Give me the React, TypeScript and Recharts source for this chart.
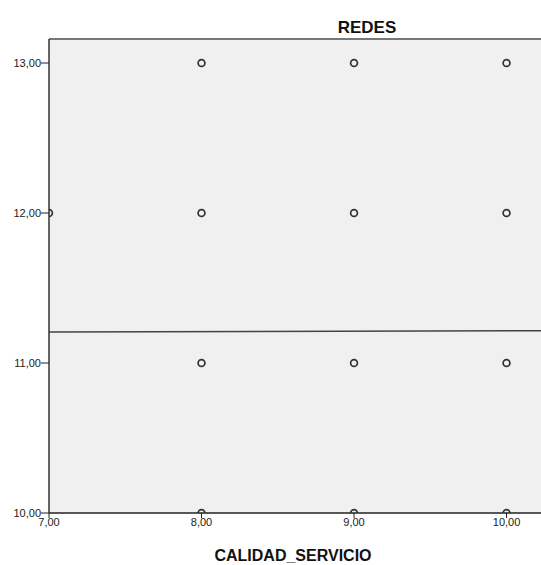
import React from 'react';
import { ScatterChart, Scatter, XAxis, YAxis, CartesianGrid, ReferenceLine } from 'recharts';

const calidadServicio = [7, 8, 9, 10, 8, 9, 10, 8, 9, 10, 8, 9, 10];
const redes = [12, 13, 13, 13, 12, 12, 12, 11, 11, 11, 10, 10, 10];
const xTicks = [7, 8, 9, 10];
const yTicks = [10, 11, 12, 13];
const fitLine = [
  { x: 7, y: 11.207 },
  { x: 10.226, y: 11.215 },
];
const xDomain = [7, 10.226];
const yDomain = [10, 13.16];
const title = 'REDES';
const xLabel = 'CALIDAD_SERVICIO';

const points = calidadServicio.map((x, i) => ({ x, y: redes[i] }));
const fmt = (v: number) => v.toFixed(2).replace('.', ',');
const FONT = '"Liberation Sans", Arial, sans-serif';

const Ring = (props: any) => {
  const { cx, cy } = props;
  if (cx == null || cy == null) return null;
  return <circle cx={cx} cy={cy} r={3.4} fill="none" stroke="#333" strokeWidth={1.7} />;
};

export default function App() {
  return (
    <div style={{ position: 'absolute', left: 0, top: 0, width: 541, height: 565, background: '#fff' }}>
      <ScatterChart width={541} height={565} margin={{ top: 39, right: 0, bottom: 0, left: 0 }}>
        <CartesianGrid horizontal={false} vertical={false} fill="#f0f0f0" />
        <XAxis
          type="number"
          dataKey="x"
          domain={xDomain}
          ticks={xTicks}
          allowDataOverflow
          height={52}
          tickFormatter={fmt}
          tick={{ fontSize: 11, fill: '#222', fontFamily: FONT }}
          tickSize={5}
          tickMargin={0}
          stroke="#222"
          tickLine={{ stroke: '#222' }}
          axisLine={{ stroke: '#222', strokeWidth: 1.5 }}
        />
        <YAxis
          type="number"
          dataKey="y"
          domain={yDomain}
          ticks={yTicks}
          allowDataOverflow
          width={49}
          tickFormatter={fmt}
          tick={{ fontSize: 11, fill: '#222', fontFamily: FONT }}
          tickSize={8}
          tickMargin={0}
          stroke="#222"
          tickLine={{ stroke: '#222' }}
          axisLine={{ stroke: '#333', strokeWidth: 1.5 }}
        />
        <ReferenceLine y={13.16} stroke="#777" strokeWidth={2} ifOverflow="visible" />
        <ReferenceLine segment={fitLine} stroke="#444" strokeWidth={1.5} ifOverflow="visible" />
        <Scatter data={points} shape={<Ring />} isAnimationActive={false} />
        <text x={367} y={33} textAnchor="middle" fontFamily={FONT} fontWeight="bold" fontSize={17} fill="#111">
          {title}
        </text>
        <text x={293} y={561} textAnchor="middle" fontFamily={FONT} fontWeight="bold" fontSize={16} fill="#111">
          {xLabel}
        </text>
      </ScatterChart>
    </div>
  );
}
